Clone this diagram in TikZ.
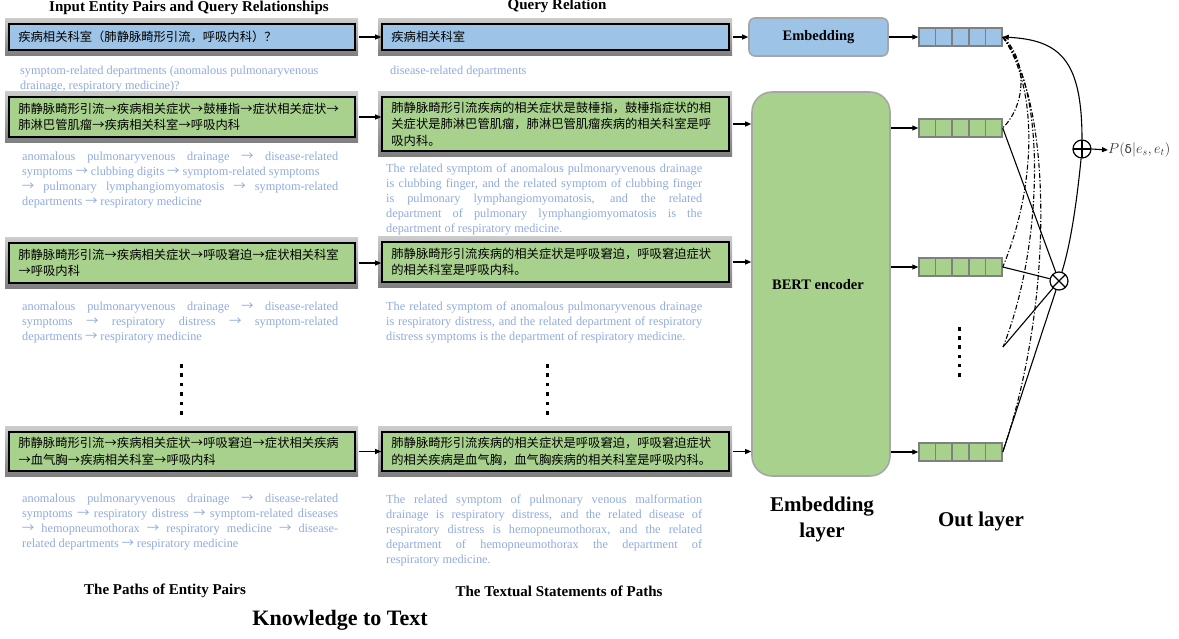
\documentclass[tikz,border=0pt]{standalone}
\usepackage{fontspec}
\setmainfont{Liberation Serif}
\newfontfamily\cjk{Noto Sans CJK SC}
\newfontfamily\arf{DejaVu Sans}
\usetikzlibrary{arrows.meta,calc}
\definecolor{boxblue}{HTML}{9DC3E6}
\definecolor{boxgreen}{HTML}{A9D18E}
\definecolor{engcol}{HTML}{8FAADC}
\definecolor{frtop}{HTML}{CDCDCD}
\definecolor{frbot}{HTML}{7F7F7F}
\definecolor{rgray}{HTML}{A6A6A6}
\definecolor{vgray}{HTML}{808080}
\newcommand\ra{\makebox[12.5pt][c]{\cjk →}}
\newcommand\ea{\makebox[12pt][c]{\cjk\fontsize{12.5}{15}\selectfont →}}
\newcommand\jl[1]{\makebox[316pt][s]{#1}}
\newcommand\mybox[6]{%
  \shade[top color=frtop,bottom color=frbot] (#2-4,#3-6) rectangle (#4+3,#5+5);
  \pgfmathsetmacro\bw{#4-#2}\pgfmathsetmacro\bh{#5-#3}%
  \node[innerbox, fill=#6, minimum width=\bw pt, minimum height=\bh pt] (#1) at ({(#2+#4)/2},{(#3+#5)/2}) {};
}
\newcommand\vecbar[3]{%
  \node[vec, fill=#3] (#1) at (960.5,#2) {};
  \foreach \k in {1,...,4} \draw[vgray, line width=1.5pt] ({919+\k*16.6},#2-9) -- ++(0,18);
}
\begin{document}
\begin{tikzpicture}[x=1pt,y=-1pt,
  arr/.style={-{Triangle[length=6pt,width=5pt]}, line width=1.1pt},
  innerbox/.style={draw=black, line width=1.6pt, inner sep=0},
  cjktext/.style={font=\cjk\fontsize{12.3}{16.5}\selectfont, anchor=west, align=left, inner sep=0},
  eng/.style={font=\fontsize{12.3}{15}\selectfont, text=engcol, inner sep=0, anchor=north west, align=left},
  hdr/.style={font=\bfseries\fontsize{15}{18}\selectfont, inner sep=0},
  big/.style={font=\bfseries\fontsize{21}{26}\selectfont, align=center, inner sep=0},
  dd/.style={line width=1.1pt, dash pattern=on 5pt off 2pt on 1.2pt off 2pt},
  vec/.style={draw=vgray, line width=1.5pt, minimum width=83pt, minimum height=18pt, inner sep=0},
  sline/.style={line width=1.1pt},
  ]
\useasboundingbox (0,0) rectangle (1179,638);

% headers
\node[hdr] (h1) at (189,8) {Input Entity Pairs and Query Relationships};
\node[hdr] (h2) at (557,6) {Query Relation};

% boxes
\mybox{b1}{9}{24}{355}{50}{boxblue}
\mybox{b2}{9}{97}{355}{137}{boxgreen}
\mybox{b3}{9}{243}{355}{283}{boxgreen}
\mybox{b4}{9}{432}{355}{471}{boxgreen}
\mybox{bA}{382}{24}{729}{50}{boxblue}
\mybox{bB}{382}{97}{729}{151}{boxgreen}
\mybox{bC}{382}{242}{729}{282}{boxgreen}
\mybox{bD}{382}{432}{729}{471}{boxgreen}

% chinese texts
\node[cjktext] (t1) at ([xshift=10pt]b1.west) {疾病相关科室（肺静脉畸形引流，呼吸内科）？};
\node[cjktext] (t2) at ([xshift=10pt]b2.west) {肺静脉畸形引流\ra 疾病相关症状\ra 鼓棰指\ra 症状相关症状\ra\\肺淋巴管肌瘤\ra 疾病相关科室\ra 呼吸内科};
\node[cjktext] (t3) at ([xshift=10pt]b3.west) {肺静脉畸形引流\ra 疾病相关症状\ra 呼吸窘迫\ra 症状相关科室\\\ra 呼吸内科};
\node[cjktext] (t4) at ([xshift=10pt]b4.west) {肺静脉畸形引流\ra 疾病相关症状\ra 呼吸窘迫\ra 症状相关疾病\\\ra 血气胸\ra 疾病相关科室\ra 呼吸内科};
\node[cjktext] (tA) at ([xshift=10pt]bA.west) {疾病相关科室};
\node[cjktext] (tB) at ([xshift=10pt]bB.west) {肺静脉畸形引流疾病的相关症状是鼓棰指，鼓棰指症状的相\\关症状是肺淋巴管肌瘤，肺淋巴管肌瘤疾病的相关科室是呼\\吸内科。};
\node[cjktext] (tC) at ([xshift=10pt]bC.west) {肺静脉畸形引流疾病的相关症状是呼吸窘迫，呼吸窘迫症状\\的相关科室是呼吸内科。};
\node[cjktext] (tD) at ([xshift=10pt]bD.west) {肺静脉畸形引流疾病的相关症状是呼吸窘迫，呼吸窘迫症状\\的相关疾病是血气胸，血气胸疾病的相关科室是呼吸内科。};

% english texts
\node[eng] (e1) at (20,63.5) {\strut symptom-related departments (anomalous pulmonaryvenous\\drainage, respiratory medicine)?};
\node[eng] (e2) at (22,149.5) {\jl{\strut anomalous pulmonaryvenous drainage \ea{} disease-related}\\symptoms \ea{} clubbing digits \ea{} symptom-related symptoms\\\jl{\ea{} pulmonary lymphangiomyomatosis \ea{} symptom-related}\\departments \ea{} respiratory medicine};
\node[eng] (e3) at (22,299.5) {\jl{\strut anomalous pulmonaryvenous drainage \ea{} disease-related}\\\jl{symptoms \ea{} respiratory distress \ea{} symptom-related}\\departments \ea{} respiratory medicine};
\node[eng] (e4) at (22,491.5) {\jl{\strut anomalous pulmonaryvenous drainage \ea{} disease-related}\\\jl{symptoms \ea{} respiratory distress \ea{} symptom-related diseases}\\\jl{\ea{} hemopneumothorax \ea{} respiratory medicine \ea{} disease-}\\related departments \ea{} respiratory medicine};
\node[eng] (eA) at (390,63.5) {\strut disease-related departments};
\node[eng] (eB) at (386,161.5) {\jl{\strut The related symptom of anomalous pulmonaryvenous drainage}\\\jl{is clubbing finger, and the related symptom of clubbing finger}\\\jl{is pulmonary lymphangiomyomatosis, and the related}\\\jl{department of pulmonary lymphangiomyomatosis is the}\\department of respiratory medicine.};
\node[eng] (eC) at (386,299.5) {\jl{\strut The related symptom of anomalous pulmonaryvenous drainage}\\\jl{is respiratory distress, and the related department of respiratory}\\distress symptoms is the department of respiratory medicine.};
\node[eng] (eD) at (386,492.5) {\jl{\strut The related symptom of pulmonary venous malformation}\\\jl{drainage is respiratory distress, and the related disease of}\\\jl{respiratory distress is hemopneumothorax, and the related}\\\jl{department of hemopneumothorax the department of}\\respiratory medicine.};

% vertical dots
\foreach \k in {0,...,5} {
  \fill (179.5,{364+\k*9.4}) rectangle ++(3.5,3.5);
  \fill (545.5,{364+\k*9.4}) rectangle ++(3.5,3.5);
  \fill (957.5,{327+\k*9.2}) rectangle ++(3.5,3.5);
}

% bottom labels
\node[hdr] (l1) at (165,591) {The Paths of Entity Pairs};
\node[hdr] (l2) at (559,591) {The Textual Statements of Paths};
\node[font=\bfseries\fontsize{22}{26}\selectfont, inner sep=0] (l3) at (340,620) {Knowledge to Text};
\node[big] (l4) at (822,519) {Embedding\\layer};
\node[big] (l5) at (981,521) {Out layer};

% embedding & bert
\node[draw=rgray, line width=1.6pt, rounded corners=6pt, fill=boxblue, minimum width=139pt, minimum height=38pt, font=\bfseries\fontsize{14.5}{17}\selectfont] (emb) at (818.5,37) {Embedding};
\node[draw=rgray, line width=1.6pt, rounded corners=20pt, fill=boxgreen, minimum width=138pt, minimum height=384pt] (bert) at (821,284) {};
\node[font=\bfseries\fontsize{14.5}{17}\selectfont, inner sep=0] (bl) at (818,285) {BERT encoder};

% vectors
\vecbar{v1}{37}{boxblue}
\vecbar{v2}{128}{boxgreen}
\vecbar{v3}{267}{boxgreen}
\vecbar{v4}{452}{boxgreen}

% arrows col1 -> col2
\draw[arr] ([xshift=3pt]b1.east) -- (b1.east -| bA.west);
\draw[arr] ([xshift=3pt]b2.east) -- (b2.east -| bB.west);
\draw[arr] ([xshift=3pt]b3.east) -- (b3.east -| bC.west);
\draw[arr] ([xshift=3pt]b4.east) -- (b4.east -| bD.west);
% col2 -> encoders
\draw[arr] ([xshift=3pt]bA.east) -- (emb.west);
\draw[arr] ([xshift=3pt]bB.east) -- (bB.east -| bert.west);
\draw[arr] ([xshift=3pt]bC.east) -- (bC.east -| bert.west);
\draw[arr] ([xshift=3pt]bD.east) -- (bD.east -| bert.west);
% encoders -> vectors
\draw[arr] (emb.east) -- (v1.west);
\draw[arr] (bert.east |- v2.west) -- (v2.west);
\draw[arr] (bert.east |- v3.west) -- (v3.west);
\draw[arr] (bert.east |- v4.west) -- (v4.west);

% out layer
\node[circle, draw, line width=1.2pt, minimum size=18pt, inner sep=0, fill=white,
  path picture={\draw[line width=1.2pt] (path picture bounding box.north west) -- (path picture bounding box.south east) (path picture bounding box.north east) -- (path picture bounding box.south west);}] (ot) at (1059,281) {};
\node[circle, draw, line width=1.2pt, minimum size=18pt, inner sep=0, fill=white,
  path picture={\draw[line width=1.2pt] (path picture bounding box.north) -- (path picture bounding box.south) (path picture bounding box.west) -- (path picture bounding box.east);}] (op) at (1082,149) {};
\node[anchor=west, inner sep=0, text=black!80, font=\fontsize{14}{16}\selectfont] (ptxt) at (1108,150) {$P(\mbox{\arf\fontsize{12}{14}\selectfont δ}|e_s,e_t)$};
\coordinate (stub) at (1003,347);

\draw[dd] (v1.east) .. controls (1024,55) and (1030,100) .. (v2.east);
\draw[dd] (v1.east) .. controls (1040,90) and (1035,190) .. (v3.east);
\draw[dd] (v1.east) .. controls (1048,90) and (1042,250) .. (stub);
\draw[dd] (v1.east) .. controls (1052,100) and (1055,300) .. (v4.east);

\draw[sline] (v2.east) -- (ot);
\draw[sline] (v3.east) -- (ot);
\draw[sline] (ot) -- (stub);
\draw[sline] (ot) -- (v4.east);
\draw[sline] (ot) .. controls (1072,240) and (1078,190) .. (op);
\draw[arr] (op.north) .. controls (1082,60) and (1060,40) .. (v1.east);
\draw[arr] (op.east) -- (ptxt.west);
\end{tikzpicture}
\end{document}
